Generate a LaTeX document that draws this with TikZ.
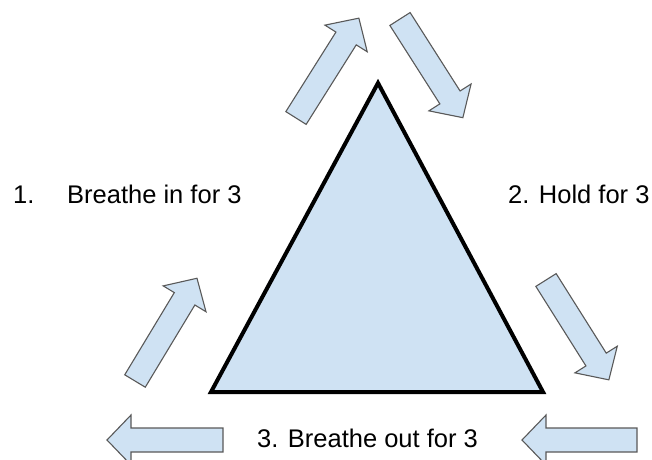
\documentclass[tikz,border=0pt]{standalone}
\usepackage{fontspec}
\setmainfont{Liberation Sans}
\usepackage{xcolor}
\usetikzlibrary{calc}

\definecolor{paleblue}{HTML}{CFE2F3}
\definecolor{edgegray}{HTML}{595959}

\tikzset{
  blockarrow/.pic={
    \draw[edgegray, line width=1.1pt, fill=paleblue, line join=miter]
      (0,-12) -- ({#1-24},-12) -- ({#1-24},-25) -- (#1,0) -- ({#1-24},25) -- ({#1-24},12) -- (0,12) -- cycle;
  }
}

\begin{document}
\begin{tikzpicture}[x=1pt, y=1pt, every node/.style={font=\fontsize{25.5}{30}\selectfont, inner sep=0pt}, lbl/.style={anchor=base west}]
    \useasboundingbox (0,0) rectangle (652,459);

    % triangle
    \coordinate (apex) at (378,376);
    \coordinate (bl) at (211,67);
    \coordinate (br) at (543,67);
    \draw[line width=4pt, fill=paleblue, line join=miter] (apex) -- (br) -- (bl) -- cycle;

    % arrows: tail / angle / length
    \foreach \x/\y/\ang/\len in {296/341/57.8/118, 400/440/-57.5/117, 135/78/58.9/120, 223/19/180/116, 546/179/-57.8/118, 637/19/180/115}{
      \pic[rotate=\ang] at (\x,\y) {blockarrow=\len};
    }

    \node[lbl] (num1) at (13,256) {1.};
    \node[lbl] (inhale) at (67,256) {Breathe in for 3};
    \node[lbl] (hold) at (508,256) {2. Hold for 3};
    \node[lbl] (exhale) at (257,12) {3. Breathe out for 3};
\end{tikzpicture}
\end{document}
